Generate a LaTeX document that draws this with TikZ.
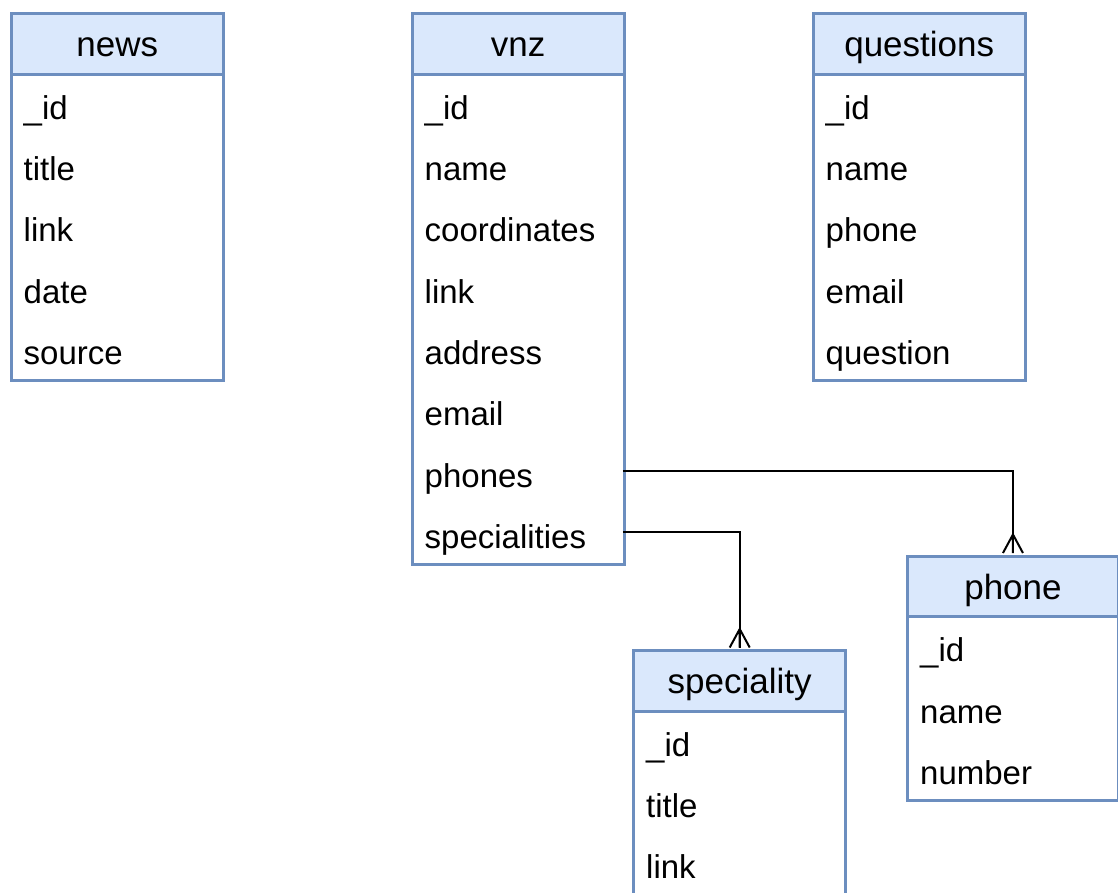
\documentclass[tikz,border=0pt]{standalone}
\usepackage{fontspec}
\setmainfont{Liberation Sans}
\definecolor{tblborder}{HTML}{6C8EBF}
\definecolor{tblfill}{HTML}{DAE8FC}
\tikzset{
  tblhead/.style={draw=tblborder, fill=tblfill, line width=3.4pt, anchor=north west,
    inner sep=0pt, minimum height=60.5pt},
  tbltitle/.style={anchor=base, inner sep=0pt, font=\fontsize{35}{42}\selectfont},
  tblbody/.style={draw=tblborder, fill=white, line width=3.4pt, anchor=north west, inner sep=0pt},
  tblfield/.style={anchor=north west, inner xsep=14pt, inner ysep=0pt, align=left,
    minimum height=61.3pt, text height=40pt, text depth=8pt,
    font=\fontsize{33}{40}\selectfont},
  rel/.style={draw=black, line width=2pt},
}
% #1 name, #2 x, #3 y (top-left), #4 width, #5 number of fields, #6 title, #7 fields
\newcommand\erTable[7]{%
  \node[tblbody, minimum width=#4pt, minimum height={#5*61.3pt}] (#1-body) at (#2,{#3+60.5}) {};
  \node[tblhead, minimum width=#4pt] (#1) at (#2,#3) {};
  \node[tbltitle] (#1-title) at ([yshift=-13pt]#1.center) {#6};
  \foreach \f [count=\i] in {#7}
    \node[tblfield, text width={#4pt-28pt}] (#1-\i) at (#2,{#3+60.5+(\i-1)*61.3}) {\f};
}
% crow's foot drawn at the top edge of a table
\newcommand\crowfoot[1]{%
  \draw[rel] ([yshift=20pt]#1.north) -- ([xshift=-10pt,yshift=1.5pt]#1.north)
             ([yshift=20pt]#1.north) -- ([yshift=1.5pt]#1.north)
             ([yshift=20pt]#1.north) -- ([xshift=10pt,yshift=1.5pt]#1.north);
}
\begin{document}
\begin{tikzpicture}[x=1pt, y=-1pt]
  \useasboundingbox (0,0) rectangle (1118,892);
  \clip (0,0) rectangle (1118,892);

  \erTable{news}{9.5}{12}{212}{5}{news}{\_id, title, link, date, source}
  \erTable{vnz}{410.5}{12}{212}{8}{vnz}{\_id, name, coordinates, link, address, email, phones, specialities}
  \erTable{questions}{811.5}{12}{212}{5}{questions}{\_id, name, phone, email, question}
  \erTable{phone}{906}{554.5}{210.5}{3}{phone}{\_id, name, number}
  \erTable{speciality}{632}{649}{212}{3}{speciality}{\_id, title, link}

  % relations from vnz to its embedded collections
  \draw[rel] (vnz-7.east) -| ([yshift=1.5pt]phone.north);
  \crowfoot{phone}
  \draw[rel] (vnz-8.east) -| ([yshift=1.5pt]speciality.north);
  \crowfoot{speciality}
\end{tikzpicture}
\end{document}
